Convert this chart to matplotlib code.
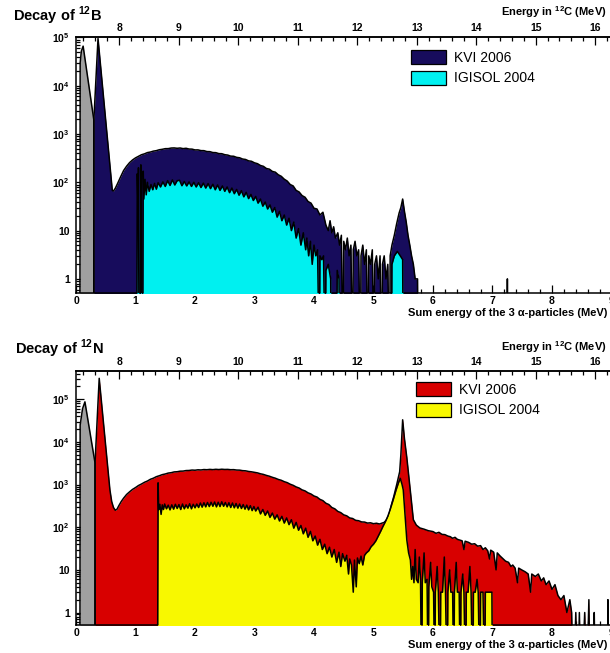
import numpy as np
import matplotlib
matplotlib.use("Agg")
import matplotlib.pyplot as plt
from matplotlib.patches import Patch
from matplotlib.ticker import FixedLocator, LogLocator, MultipleLocator, NullFormatter

plt.rcParams["font.family"] = ["Liberation Sans", "DejaVu Sans"]
plt.rcParams["font.weight"] = "bold"
plt.rcParams["mathtext.fontset"] = "custom"
plt.rcParams["mathtext.rm"] = "Liberation Sans"
plt.rcParams["mathtext.bf"] = "Liberation Sans:bold"

# sum energy of the 3 alphas -> excitation energy in 12C
HOYLE_OFFSET = 7.275
EXC_TICKS = [8, 9, 10, 11, 12, 13, 14, 15, 16]

# ---- 12B decay: spectra (energy MeV, counts per bin) ----
gray_b_E = [0.065, 0.07, 0.09, 0.12, 0.30]
gray_b_N = [0, 3.0e4, 5.2e4, 6.6e4, 1950]

kvi_b_E = [0.30, 0.37, 0.61, 0.63, 0.66, 0.70, 0.75, 0.80, 0.85, 0.90, 0.95,
           1.00, 1.05, 1.10, 1.15, 1.20, 1.25, 1.30, 1.35, 1.40, 1.45, 1.50,
           1.55, 1.60, 1.65, 1.70, 1.75, 1.80, 1.85, 1.90, 1.95, 2.00, 2.05,
           2.10, 2.15, 2.20, 2.25, 2.30, 2.35, 2.40, 2.45, 2.50, 2.55, 2.60,
           2.65, 2.70, 2.75, 2.80, 2.85, 2.90, 2.95, 3.00, 3.05, 3.10, 3.15,
           3.20, 3.25, 3.30, 3.35, 3.40, 3.45, 3.50, 3.55, 3.60, 3.65, 3.70,
           3.75, 3.80, 3.85, 3.90, 3.95, 4.00, 4.05, 4.10, 4.15, 4.20, 4.24,
           4.27, 4.30, 4.33, 4.36, 4.40, 4.43, 4.46, 4.49, 4.50, 4.53, 4.56,
           4.59, 4.62, 4.65, 4.66, 4.69, 4.72, 4.75, 4.78, 4.79, 4.82, 4.85,
           4.88, 4.91, 4.92, 4.95, 4.98, 5.01, 5.02, 5.05, 5.08, 5.11, 5.14,
           5.15, 5.18, 5.21, 5.24, 5.27, 5.28, 5.31, 5.35, 5.39, 5.43, 5.46,
           5.49, 5.52, 5.55, 5.58, 5.61, 5.64, 5.67, 5.70, 5.74, 5.75, 7.24,
           7.25, 7.26]
kvi_b_N = [1950, 9.5e4, 68, 66, 75, 95, 130, 175, 215, 255, 290,
           320, 345, 372, 388, 412, 423, 442, 452, 472, 482, 497,
           498, 512, 515, 506, 513, 498, 506, 488, 486, 468, 469,
           453, 452, 433, 431, 413, 411, 393, 391, 373, 366, 348,
           346, 328, 322, 303, 297, 278, 272, 253, 243, 223, 214,
           193, 187, 168, 162, 143, 133, 116, 106, 90, 84, 68,
           63, 53, 49, 40, 37, 29, 28, 21, 24, 13, 10,
           16, 9, 12, 7, 9, 5, 8, 0, 6, 4, 7,
           3, 5, 0, 4, 6, 3, 4, 0, 3, 5, 2,
           4, 0, 3, 2, 4, 0, 2, 3, 1, 3, 0,
           2, 3, 1, 2, 0, 3, 5, 8, 14, 23, 30,
           45, 25, 15, 8, 5, 3, 2, 1, 1, 0, 0,
           1, 0]

igisol_b_E = [1.02, 1.03, 1.04, 1.05, 1.06, 1.08, 1.09, 1.10, 1.12, 1.13,
              1.14, 1.16, 1.18, 1.20, 1.23, 1.26, 1.29, 1.32, 1.35, 1.38,
              1.42, 1.46, 1.50, 1.54, 1.58, 1.62, 1.66, 1.70, 1.74, 1.78,
              1.82, 1.86, 1.90, 1.94, 1.98, 2.02, 2.06, 2.10, 2.14, 2.18,
              2.22, 2.26, 2.30, 2.34, 2.38, 2.42, 2.46, 2.50, 2.54, 2.58,
              2.62, 2.66, 2.70, 2.74, 2.78, 2.82, 2.86, 2.90, 2.94, 2.98,
              3.02, 3.06, 3.10, 3.14, 3.18, 3.22, 3.26, 3.30, 3.34, 3.38,
              3.42, 3.46, 3.50, 3.54, 3.58, 3.62, 3.66, 3.70, 3.74, 3.78,
              3.82, 3.86, 3.88, 3.91, 3.94, 3.97, 4.00, 4.03, 4.06, 4.09,
              4.10, 4.13, 4.16, 4.19, 4.20, 4.24, 4.28, 4.29, 4.38, 4.39,
              4.42, 4.43, 5.30, 5.31, 5.35, 5.40, 5.45, 5.49, 5.50]
igisol_b_N = [0, 150, 40, 200, 0, 0, 230, 0, 0, 170,
              45, 115, 55, 100, 65, 90, 70, 95, 72, 98,
              80, 102, 82, 108, 86, 112, 88, 108, 110, 85,
              104, 84, 102, 82, 100, 80, 98, 78, 96, 76,
              94, 74, 91, 70, 88, 68, 84, 65, 80, 61,
              76, 58, 71, 54, 67, 50, 62, 46, 56, 42,
              51, 37, 45, 32, 39, 28, 34, 24, 30, 19,
              25, 16, 21, 13, 18, 10, 15, 7, 11, 5,
              9, 4, 7, 3, 6, 2, 5, 3, 4, 0,
              3, 2.5, 3, 0, 1.5, 2, 1, 0, 0, 1.5,
              1, 0, 0, 2, 3, 3.7, 3, 2.5, 0]

# ---- 12N decay ----
gray_n_E = [0.065, 0.07, 0.11, 0.15, 0.32]
gray_n_N = [0, 2.5e4, 6.0e4, 8.7e4, 3200]

kvi_n_E = [0.32, 0.39, 0.57, 0.60, 0.63, 0.66, 0.69, 0.72, 0.76, 0.80, 0.85,
           0.90, 0.95, 1.00, 1.05, 1.10, 1.15, 1.20, 1.25, 1.30, 1.35, 1.40,
           1.45, 1.50, 1.55, 1.60, 1.65, 1.70, 1.75, 1.80, 1.85, 1.90, 1.95,
           2.00, 2.05, 2.10, 2.15, 2.20, 2.25, 2.30, 2.35, 2.40, 2.45, 2.50,
           2.55, 2.60, 2.65, 2.70, 2.75, 2.80, 2.85, 2.90, 2.95, 3.00, 3.05,
           3.10, 3.15, 3.20, 3.25, 3.30, 3.35, 3.40, 3.45, 3.50, 3.55, 3.60,
           3.65, 3.70, 3.75, 3.80, 3.85, 3.90, 3.95, 4.00, 4.05, 4.10, 4.15,
           4.20, 4.25, 4.30, 4.35, 4.40, 4.45, 4.50, 4.55, 4.60, 4.65, 4.70,
           4.75, 4.80, 4.85, 4.90, 4.95, 5.00, 5.05, 5.10, 5.14, 5.18, 5.22,
           5.26, 5.30, 5.34, 5.39, 5.44, 5.46, 5.49, 5.52, 5.56, 5.62, 5.67,
           5.72, 5.78, 5.85, 5.92, 6.00, 6.05, 6.10, 6.15, 6.20, 6.25, 6.29,
           6.33, 6.37, 6.41, 6.45, 6.49, 6.52, 6.54, 6.60, 6.65, 6.70, 6.75,
           6.80, 6.84, 6.88, 6.92, 6.95, 6.97, 7.02, 7.06, 7.08, 7.13, 7.18,
           7.22, 7.27, 7.31, 7.34, 7.38, 7.42, 7.44, 7.49, 7.55, 7.60, 7.64,
           7.66, 7.72, 7.77, 7.82, 7.86, 7.90, 7.95, 8.00, 8.05, 8.10, 8.15,
           8.20, 8.25, 8.30, 8.33, 8.36, 8.40, 8.43, 8.46, 8.49, 8.55, 8.58,
           8.62, 8.64, 8.70, 8.71, 8.73, 8.93, 8.94, 8.95]
kvi_n_N = [3200, 3.1e5, 750, 400, 290, 250, 265, 320, 400, 480, 585,
           675, 770, 850, 950, 1030, 1130, 1210, 1330, 1410, 1530, 1610,
           1710, 1770, 1860, 1900, 1980, 2000, 2060, 2070, 2130, 2140, 2190,
           2170, 2220, 2200, 2250, 2230, 2270, 2240, 2280, 2250, 2290, 2260,
           2270, 2230, 2240, 2190, 2180, 2120, 2100, 2030, 1990, 1930, 1880,
           1790, 1730, 1640, 1570, 1480, 1410, 1320, 1260, 1170, 1110, 1020,
           960, 880, 830, 750, 710, 640, 600, 540, 510, 450, 420,
           365, 340, 290, 270, 235, 220, 195, 185, 165, 160, 145,
           142, 133, 132, 125, 127, 121, 124, 119, 124, 130, 150,
           195, 330, 520, 1000, 2000, 5000, 3.3e4, 1.2e4, 4300, 700, 150,
           112, 96, 90, 83, 79, 72, 76, 68, 67, 62, 60,
           55, 58, 52, 50, 48, 30, 47, 44, 40, 41, 36,
           37, 30, 33, 28, 18, 29, 26, 10, 25, 21, 18,
           16, 15, 12, 13, 11, 5, 11, 10, 9, 8, 3,
           8, 7, 8, 5.5, 6.5, 4.5, 5.5, 3.5, 4.5, 2.5, 2,
           2.5, 1, 2, 1, 0, 1, 0, 1, 0, 1, 0,
           2, 0, 0, 1, 0, 0, 2, 0]

igisol_n_E = [1.37, 1.38, 1.39, 1.41, 1.43, 1.45, 1.47, 1.49, 1.52, 1.55,
              1.58, 1.61, 1.64, 1.67, 1.70, 1.73, 1.76, 1.79, 1.82, 1.85,
              1.88, 1.91, 1.94, 1.97, 2.00, 2.03, 2.06, 2.09, 2.12, 2.15,
              2.18, 2.21, 2.24, 2.27, 2.30, 2.33, 2.36, 2.39, 2.42, 2.45,
              2.48, 2.51, 2.54, 2.57, 2.60, 2.63, 2.66, 2.69, 2.72, 2.75,
              2.78, 2.81, 2.84, 2.87, 2.90, 2.93, 2.96, 2.99, 3.02, 3.06,
              3.10, 3.14, 3.18, 3.22, 3.26, 3.30, 3.34, 3.38, 3.42, 3.46,
              3.50, 3.54, 3.58, 3.62, 3.66, 3.70, 3.74, 3.78, 3.82, 3.86,
              3.90, 3.94, 3.98, 4.02, 4.06, 4.10, 4.14, 4.18, 4.22, 4.26,
              4.30, 4.34, 4.38, 4.42, 4.45, 4.48, 4.52, 4.55, 4.58, 4.60,
              4.63, 4.66, 4.68, 4.71, 4.73, 4.76, 4.79, 4.82, 4.85, 4.88,
              4.92, 4.96, 5.00, 5.04, 5.08, 5.12, 5.16, 5.20, 5.24, 5.28,
              5.33, 5.38, 5.42, 5.45, 5.48, 5.50, 5.53, 5.56, 5.59, 5.62,
              5.64, 5.66, 5.68, 5.70, 5.72, 5.75, 5.77, 5.79, 5.81, 5.82,
              5.85, 5.87, 5.90, 5.92, 5.93, 5.96, 5.98, 6.01, 6.03, 6.04,
              6.07, 6.09, 6.12, 6.13, 6.16, 6.19, 6.21, 6.24, 6.25, 6.28,
              6.30, 6.33, 6.35, 6.36, 6.39, 6.41, 6.44, 6.46, 6.47, 6.50,
              6.52, 6.55, 6.56, 6.59, 6.62, 6.64, 6.67, 6.68, 6.71, 6.74,
              6.76, 6.79, 6.80, 6.84, 6.87, 6.88, 6.92, 6.96, 6.99, 7.00]
igisol_n_N = [0, 1100, 260, 345, 200, 335, 260, 350, 270, 330,
              255, 335, 265, 345, 275, 340, 260, 350, 270, 335,
              280, 355, 270, 345, 285, 350, 290, 370, 295, 375,
              300, 380, 305, 385, 310, 390, 300, 385, 305, 395,
              310, 380, 300, 375, 290, 370, 285, 360, 280, 350,
              275, 340, 265, 330, 255, 320, 245, 305, 240, 295,
              205, 260, 190, 240, 170, 215, 155, 195, 140, 180,
              125, 165, 115, 150, 95, 130, 85, 110, 70, 95,
              58, 80, 48, 62, 38, 52, 30, 40, 24, 34,
              20, 30, 15, 26, 12, 24, 16, 22, 8, 18,
              13, 3, 17, 4, 19, 14, 21, 13, 22, 25,
              28, 35, 40, 48, 62, 80, 105, 135, 180, 260,
              435, 750, 1100, 1400, 1000, 750, 200, 50, 25, 17,
              6, 12, 5, 30, 6, 5, 20, 6, 0, 5,
              25, 5, 6, 0, 4, 15, 4, 3, 0, 3,
              12, 3, 0, 3, 3, 20, 3, 0, 3, 10,
              3, 3, 0, 3, 15, 3, 3, 0, 3, 8,
              3, 0, 3, 3, 12, 3, 0, 3, 3, 6,
              3, 0, 3, 3, 0, 3, 3, 3, 3, 0]

DECADES = [1, 10, 1e2, 1e3, 1e4, 1e5]
DECADE_LABELS = ["1", "10", r"$\mathbf{10^{2}}$", r"$\mathbf{10^{3}}$",
                 r"$\mathbf{10^{4}}$", r"$\mathbf{10^{5}}$"]

FLOOR = 1e-2
FIG_W, FIG_H = 610, 653
X_LEFT, X_RIGHT = 76, 615
PX_PER_MEV = 59.5


def draw_hist(ax, e, n, color, z):
    e = np.asarray(e, float)
    n = np.clip(np.asarray(n, float), FLOOR, None)
    ax.fill_between(e, FLOOR, n, color=color, lw=0, zorder=z)
    ax.plot(np.r_[e[0], e, e[-1]], np.r_[FLOOR, n, FLOOR],
            color="black", lw=1.1, zorder=z + 0.5)


def make_panel(top_px, bottom_px, ymax):
    ax = plt.gcf().add_axes([X_LEFT / FIG_W, 1 - bottom_px / FIG_H,
                             (X_RIGHT - X_LEFT) / FIG_W,
                             (bottom_px - top_px) / FIG_H])
    ax.set_yscale("log")
    ax.set_xlim(0, (X_RIGHT - X_LEFT) / PX_PER_MEV)
    ax.set_ylim(0.51, ymax)
    ax.set_yticks(DECADES, DECADE_LABELS)
    ax.yaxis.set_minor_locator(LogLocator(base=10, subs=np.arange(2, 10)))
    ax.yaxis.set_minor_formatter(NullFormatter())
    ax.xaxis.set_major_locator(MultipleLocator(1))
    ax.xaxis.set_minor_locator(MultipleLocator(0.2))
    ax.tick_params(which="both", direction="in", top=False, right=False,
                   width=0.9, labelsize=7.5)
    ax.tick_params(which="major", length=6)
    ax.tick_params(which="minor", length=3)
    ax.tick_params(axis="x", pad=2.5)
    ax.tick_params(axis="y", pad=4.5)
    ax.spines["right"].set_visible(False)
    for s in ("left", "bottom", "top"):
        ax.spines[s].set_linewidth(1.1)

    sec = ax.secondary_xaxis("top", functions=(lambda x: x + HOYLE_OFFSET,
                                               lambda x: x - HOYLE_OFFSET))
    sec.xaxis.set_major_locator(FixedLocator(EXC_TICKS))
    sec.xaxis.set_minor_locator(FixedLocator(
        [t + 0.2 * k for t in [7] + EXC_TICKS for k in range(1, 5)
         if 7.4 <= t + 0.2 * k <= 16.3]))
    sec.tick_params(which="both", direction="in", width=0.9, labelsize=7.5, pad=3)
    sec.tick_params(which="major", length=6)
    sec.tick_params(which="minor", length=3)
    sec.spines["top"].set_linewidth(1.1)
    return ax


def add_legend(ax, colors, x_px, top_px, bottom_px, axes_top_px):
    handles = [Patch(facecolor=c, edgecolor="black", lw=0.9) for c in colors]
    ax.legend(handles, ["KVI 2006", "IGISOL 2004"], loc="upper left",
              bbox_to_anchor=((x_px - X_LEFT) / (X_RIGHT - X_LEFT),
                              (bottom_px - top_px) / (bottom_px - axes_top_px)),
              frameon=False, prop={"size": 10, "weight": "normal"},
              handlelength=2.55, handleheight=1.15, labelspacing=0.45,
              handletextpad=0.55, borderpad=0, borderaxespad=0)


fig = plt.figure(figsize=(FIG_W / 100, FIG_H / 100), dpi=100)

# top panel: 12B
ax1 = make_panel(37, 293, 1.02e5)
draw_hist(ax1, gray_b_E, gray_b_N, "#a0a0a0", 2)
draw_hist(ax1, kvi_b_E, kvi_b_N, "#170c5c", 2)
draw_hist(ax1, igisol_b_E, igisol_b_N, "#00f0f0", 4)
add_legend(ax1, ["#170c5c", "#00f0f0"], 411, 50, 293, 37)

fig.text(13 / FIG_W, 1 - 16 / FIG_H, r"Decay of $^{\mathbf{12}}$B",
         fontsize=10.5, ha="left", va="center")
fig.text(607 / FIG_W, 1 - 12 / FIG_H, r"Energy in $^{\mathbf{12}}$C (MeV)",
         fontsize=8, ha="right", va="center")
fig.text(607 / FIG_W, 1 - 313 / FIG_H, "Sum energy of the 3 α-particles (MeV)",
         fontsize=8, ha="right", va="center")

# bottom panel: 12N
ax2 = make_panel(371, 625, 4.6e5)
draw_hist(ax2, gray_n_E, gray_n_N, "#a0a0a0", 2)
draw_hist(ax2, kvi_n_E, kvi_n_N, "#d80000", 2)
draw_hist(ax2, igisol_n_E, igisol_n_N, "#f8f800", 4)
add_legend(ax2, ["#d80000", "#f8f800"], 416, 382, 625, 371)

fig.text(15 / FIG_W, 1 - 349 / FIG_H, r"Decay of $^{\mathbf{12}}$N",
         fontsize=10.5, ha="left", va="center")
fig.text(607 / FIG_W, 1 - 347 / FIG_H, r"Energy in $^{\mathbf{12}}$C (MeV)",
         fontsize=8, ha="right", va="center")
fig.text(607 / FIG_W, 1 - 645 / FIG_H, "Sum energy of the 3 α-particles (MeV)",
         fontsize=8, ha="right", va="center")

fig.savefig("out.png", dpi=100)
